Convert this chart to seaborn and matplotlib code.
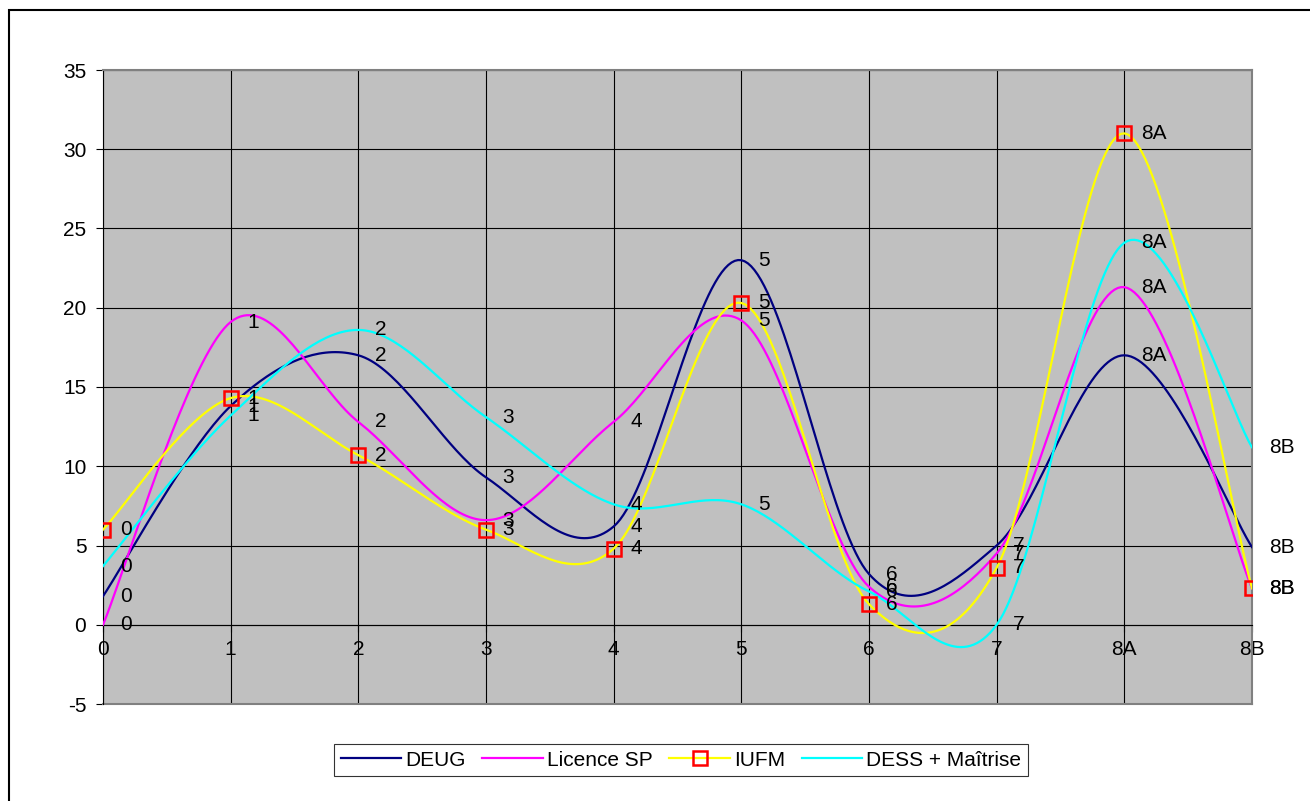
import numpy as np
import pandas as pd
import seaborn as sns
import matplotlib.pyplot as plt
from matplotlib.lines import Line2D
from matplotlib.patches import Rectangle

# values
categories = ['0', '1', '2', '3', '4', '5', '6', '7', '8A', '8B']
deug = [1.8, 13.8, 17.0, 9.3, 6.2, 23.0, 3.2, 5.0, 17.0, 4.9]
licence_sp = [0.0, 19.1, 12.8, 6.6, 12.8, 19.2, 2.4, 4.5, 21.3, 2.3]
iufm = [6.0, 14.3, 10.7, 6.0, 4.8, 20.3, 1.3, 3.6, 31.0, 2.3]
dess_maitrise = [3.7, 13.2, 18.6, 13.1, 7.6, 7.6, 2.1, 0.0, 24.1, 11.2]

series_names = ['DEUG', 'Licence SP', 'IUFM', 'DESS + Maîtrise']
series_values = [deug, licence_sp, iufm, dess_maitrise]
colors = ['#000080', '#FF00FF', '#FFFF00', '#00FFFF']

plt.rcParams['font.family'] = ['Liberation Sans', 'DejaVu Sans']
plt.rcParams['font.size'] = 15
plt.rcParams['axes.unicode_minus'] = False


def smooth(xs, ys, n=40):
    # excel-like smoothed line: cubic bezier with catmull-rom control points
    pts = np.column_stack([xs, ys]).astype(float)
    out = [pts[0]]
    for i in range(len(pts) - 1):
        p0 = pts[i - 1] if i > 0 else pts[i]
        p1, p2 = pts[i], pts[i + 1]
        p3 = pts[i + 2] if i + 2 < len(pts) else pts[i + 1]
        c1 = p1 + (p2 - p0) / 6
        c2 = p2 - (p3 - p1) / 6
        t = np.linspace(0, 1, n)[1:, None]
        seg = ((1 - t) ** 3) * p1 + 3 * ((1 - t) ** 2) * t * c1 \
            + 3 * (1 - t) * t ** 2 * c2 + t ** 3 * p2
        out.extend(seg)
    return np.array(out)


xpos = np.arange(len(categories))
frames = []
for name, vals in zip(series_names, series_values):
    curve = smooth(xpos, vals)
    frames.append(pd.DataFrame({'x': curve[:, 0], 'y': curve[:, 1], 'series': name}))
curves = pd.concat(frames, ignore_index=True)

fig = plt.figure(figsize=(13.1, 8.01), dpi=100)
ax = fig.add_axes([103 / 1310, 1 - 704 / 801, 1149 / 1310, 634 / 801])
ax.set_facecolor('#C0C0C0')

sns.lineplot(data=curves, x='x', y='y', hue='series', palette=dict(zip(series_names, colors)),
             sort=False, estimator=None, linewidth=1.6, legend=False, ax=ax, zorder=3)
ax.plot(xpos, iufm, ls='none', marker='s', ms=10, mfc='none', mec='#FF0000', mew=1.8, zorder=4)

# data labels = category names, right of each point
for vals in series_values:
    for xi, v, lab in zip(xpos, vals, categories):
        ax.annotate(lab, (xi, v), xytext=(12, 0), textcoords='offset points',
                    ha='left', va='center', fontsize=15, zorder=5, annotation_clip=False)

ax.set_xlim(0, 9)
ax.set_ylim(-5, 35)
ax.set_yticks(np.arange(-5, 36, 5))
ax.set_xticks(xpos)
ax.set_xticklabels(categories)
ax.set_xlabel('')
ax.set_ylabel('')
ax.grid(True, color='black', linewidth=0.8, zorder=1)
ax.set_axisbelow(True)

ax.spines['bottom'].set_position(('data', 0))
ax.spines['bottom'].set_color('black')
ax.spines['left'].set_color('black')
ax.spines['top'].set_color('#808080')
ax.spines['right'].set_color('#808080')
ax.spines['top'].set_linewidth(1.5)
ax.spines['right'].set_linewidth(1.5)
ax.axhline(-5, color='#808080', linewidth=1.5, clip_on=False, zorder=2)
ax.tick_params(axis='both', direction='out', length=5, width=0.8, color='black', labelsize=15)
ax.tick_params(axis='y', pad=7)
ax.tick_params(axis='x', pad=6)

handles = [
    Line2D([], [], color=colors[0], lw=1.6),
    Line2D([], [], color=colors[1], lw=1.6),
    Line2D([], [], color=colors[2], lw=1.6, marker='s', ms=10, mfc='none', mec='#FF0000', mew=1.8),
    Line2D([], [], color=colors[3], lw=1.6),
]
leg = fig.legend(handles, series_names, loc='center', bbox_to_anchor=(681 / 1310, 1 - 760 / 801),
                 ncol=4, frameon=True, fancybox=False, edgecolor='black', handlelength=2.9,
                 handletextpad=0.2, columnspacing=0.8, borderpad=0.3, fontsize=15)
leg.get_frame().set_linewidth(0.8)

# outer chart border
fig.patches.append(Rectangle((9 / 1310, -0.05), 1.1, 1 - 10 / 801 + 0.05, transform=fig.transFigure,
                             fill=False, edgecolor='black', linewidth=1.5, zorder=0))

fig.savefig('out.png', dpi=100)
